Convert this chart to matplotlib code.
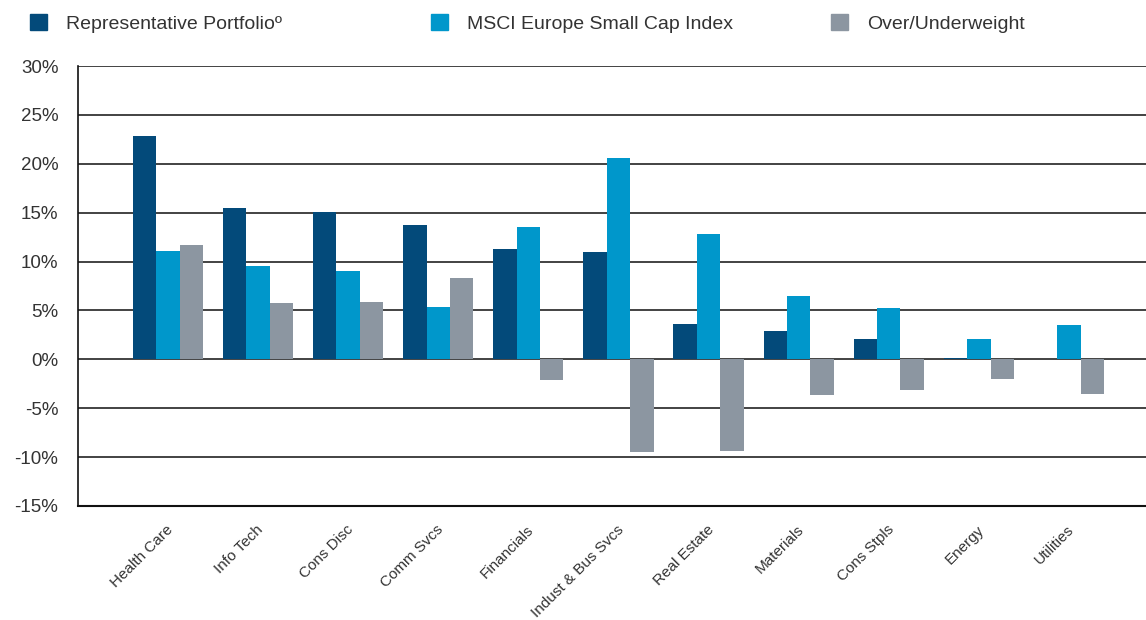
import numpy as np
import matplotlib.pyplot as plt
from matplotlib.patches import Patch

# sector weights (%)
sectors = ["Health Care", "Info Tech", "Cons Disc", "Comm Svcs", "Financials",
           "Indust & Bus Svcs", "Real Estate", "Materials", "Cons Stpls",
           "Energy", "Utilities"]
portfolio = [22.8, 15.5, 15.1, 13.7, 11.3, 11.0, 3.6, 2.9, 2.1, 0.1, 0.0]
index_wt = [11.1, 9.5, 9.0, 5.3, 13.5, 20.6, 12.8, 6.5, 5.2, 2.1, 3.5]
over_under = [11.7, 5.8, 5.9, 8.3, -2.1, -9.5, -9.4, -3.7, -3.1, -2.0, -3.6]
series_names = ["Representative Portfolioº", "MSCI Europe Small Cap Index",
                "Over/Underweight"]
yticks = [-15, -10, -5, 0, 5, 10, 15, 20, 25, 30]

colors = ["#034a7a", "#0097cb", "#8c96a1"]
txt_color = "#333333"

plt.rcParams['font.family'] = ['Liberation Sans', 'DejaVu Sans']

fig = plt.figure(figsize=(11.46, 6.2), dpi=100)
ax = fig.add_axes([0.068, 0.184, 0.932, 0.7095])

x = np.arange(len(sectors))
w = 0.26
for i, vals in enumerate([portfolio, index_wt, over_under]):
    ax.bar(x + (i - 1) * w, vals, width=w, color=colors[i], zorder=2)

ax.set_ylim(-15, 30)
ax.set_xlim(-0.999, 10.855)
ax.set_yticks(yticks)
ax.set_yticklabels([f"{t}%" for t in yticks], fontsize=13.5, color=txt_color)
ax.yaxis.grid(True, color="#222222", linewidth=1.2)
ax.set_axisbelow(True)
ax.tick_params(axis="y", length=0, pad=14)
ax.tick_params(axis="x", length=0, pad=12)

ax.set_xticks(x - 0.02)
ax.set_xticklabels(sectors, rotation=45, ha="right", rotation_mode="anchor",
                   fontsize=11, color=txt_color)

for s in ["top", "right"]:
    ax.spines[s].set_visible(False)
ax.spines["left"].set_color("#111111")
ax.spines["bottom"].set_color("#111111")
ax.spines["left"].set_linewidth(1.2)
ax.spines["bottom"].set_linewidth(1.5)

# legend entries spread across the top
leg_x = [0.0262, 0.376, 0.725]
for i in range(3):
    leg = fig.legend(handles=[Patch(color=colors[i])], labels=[series_names[i]],
                     loc="center left", bbox_to_anchor=(leg_x[i], 0.962),
                     frameon=False, fontsize=14, handlelength=0.875,
                     handleheight=0.875, handletextpad=1.0, borderpad=0,
                     labelcolor=txt_color, borderaxespad=0)

fig.savefig("out.png", dpi=100)
